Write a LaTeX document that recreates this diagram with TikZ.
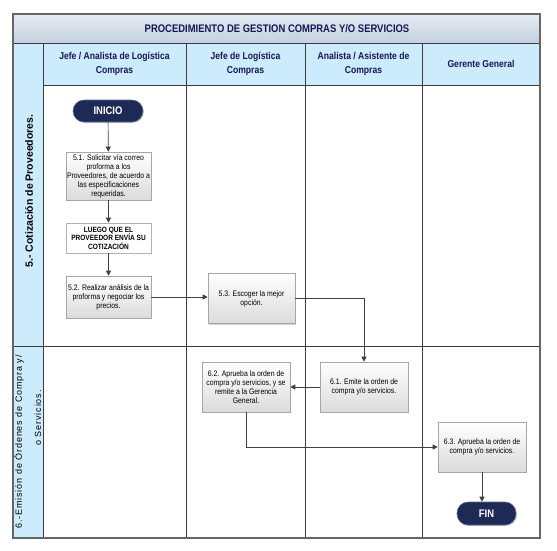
\documentclass[tikz,border=0pt]{standalone}
\usepackage{fontspec}
\setmainfont{Liberation Sans}
\newfontfamily\nar[FakeStretch=0.86]{Liberation Sans}
\newfontfamily\spc[LetterSpace=10]{Liberation Sans}
\usetikzlibrary{arrows.meta,shadows}
\definecolor{navy}{RGB}{22,24,84}
\definecolor{hdr}{RGB}{204,235,252}
\definecolor{ttop}{RGB}{228,235,243}
\definecolor{tbot}{RGB}{196,209,223}
\definecolor{gridc}{RGB}{60,60,60}
\definecolor{pillc}{RGB}{30,42,86}
\definecolor{arrc}{RGB}{64,64,64}
\begin{document}
\begin{tikzpicture}[x=1pt,y=-1pt,
  gridline/.style={draw=gridc, line width=0.8pt},
  procbox/.style={draw=gray!70, line width=0.6pt, top color=white, bottom color=black!14,
    drop shadow={shadow xshift=1pt, shadow yshift=-1pt, fill=black!35, opacity=0.5},
    inner sep=1pt, align=center, font=\nar\fontsize{8}{9}\selectfont},
  notebox/.style={draw=gray!60, line width=0.6pt, fill=white, inner sep=1pt, align=center,
    font=\nar\bfseries\fontsize{7.6}{8.5}\selectfont},
  pillbox/.style={fill=pillc, draw=pillc!70!white, line width=0.6pt, rounded corners=11pt,
    text=white, font=\nar\bfseries\fontsize{11}{13}\selectfont, inner sep=0pt,
    drop shadow={shadow xshift=1pt, shadow yshift=-1pt, fill=black!35, opacity=0.5}},
  headtext/.style={align=center, text=navy, font=\nar\bfseries\fontsize{10}{13.5}\selectfont},
  flow/.style={draw=arrc, line width=0.7pt, -{Triangle[length=5pt,width=5pt]}}]
\useasboundingbox (0,0) rectangle (557,550);
% backgrounds
\fill[hdr] (13,43) rectangle (540,85);
\fill[hdr] (13,43) rectangle (43,538);
\shade[top color=ttop, bottom color=tbot] (13,14) rectangle (540,43);
% grid
\draw[gridline] (13,43) -- (540,43);
\draw[gridline] (43,85) -- (540,85);
\draw[gridline] (13,346) -- (540,346);
\draw[gridline] (43,43) -- (43,538);
\draw[gridline] (186,43) -- (186,538);
\draw[gridline] (305,43) -- (305,538);
\draw[gridline] (422,43) -- (422,538);
\draw[draw=gray!80!black, line width=1.1pt] (13,14) rectangle (540,538);
% titles
\node[text=navy, font=\nar\bfseries\fontsize{11}{13}\selectfont] (title) at (277,28.5) {PROCEDIMIENTO DE GESTION COMPRAS Y/O SERVICIOS};
\node[headtext] (h1) at (114.5,64) {Jefe / Analista de Logística\\Compras};
\node[headtext] (h2) at (245.5,64) {Jefe de Logística\\Compras};
\node[headtext] (h3) at (363.5,64) {Analista / Asistente de\\Compras};
\node[headtext] (h4) at (481,64) {Gerente General};
\node[rotate=90, text=black!90!navy, font=\bfseries\fontsize{10.5}{12}\selectfont] (p5) at (29,191) {5.- Cotización de Proveedores.};
\node[rotate=90, font=\spc\fontsize{9}{11}\selectfont] (p6a) at (19,442) {6.-Emisión de Órdenes de Compra y/};
\node[rotate=90, font=\spc\fontsize{9}{11}\selectfont] (p6b) at (38,418) {o Servicios.};
% process nodes
\node[pillbox, minimum width=70pt, minimum height=22pt] (inicio) at (108,111) {INICIO};
\node[procbox, minimum width=85pt, minimum height=48pt] (b51) at (108.5,176) {5.1. Solicitar vía correo\\proforma a los\\Proveedores, de acuerdo a\\las especificaciones\\requeridas.};
\node[notebox, minimum width=85pt, minimum height=30pt] (luego) at (108.5,238) {LUEGO QUE EL\\PROVEEDOR ENVÍA SU\\COTIZACIÓN};
\node[procbox, minimum width=85pt, minimum height=42pt] (b52) at (108.5,297) {5.2. Realizar análisis de la\\proforma y negociar los\\precios.};
\node[procbox, minimum width=87pt, minimum height=50pt] (b53) at (251.5,298.5) {5.3. Escoger la mejor\\opción.};
\node[procbox, minimum width=88pt, minimum height=50pt] (b61) at (364,387) {6.1. Emite la orden de\\compra y/o servicios.};
\node[procbox, minimum width=88pt, minimum height=50pt] (b62) at (246,387) {6.2. Aprueba la orden de\\compra y/o servicios, y se\\remite a la Gerencia\\General.};
\node[procbox, minimum width=88pt, minimum height=50pt] (b63) at (482,447) {6.3. Aprueba la orden de\\compra y/o servicios.};
\node[pillbox, minimum width=59pt, minimum height=23pt] (fin) at (486.5,513.5) {FIN};
% connectors
\draw[flow] (inicio) -- (b51);
\draw[flow] (b51) -- (luego);
\draw[flow] (luego) -- (b52);
\draw[flow] (b52.east) -- (b52.east -| b53.west);
\draw[flow] (b53.east) -| (b61.north);
\draw[flow] (b61.west) -- (b61.west -| b62.east);
\draw[flow] (b62.south) |- (b63.west);
\draw[flow] (b63.south) -- (b63.south |- fin.north);
\end{tikzpicture}
\end{document}
